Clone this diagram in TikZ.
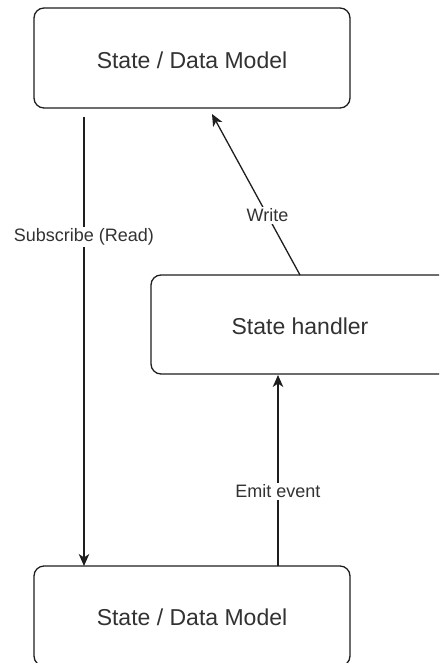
\documentclass[tikz,border=0pt]{standalone}
\usepackage{fontspec}
\setmainfont{Liberation Sans}
\usetikzlibrary{arrows.meta,calc}
\definecolor{ink}{RGB}{30,30,30}
\definecolor{txt}{RGB}{50,50,50}
\begin{document}
\begin{tikzpicture}[x=1pt,y=-1pt,
  box/.style={draw=ink,line width=1.3pt,rounded corners=10pt,fill=white},
  boxtext/.style={text=txt,font=\fontsize{23}{27}\selectfont},
  link/.style={draw=ink,line width=1.3pt,-{Stealth[length=12pt,width=10.5pt,inset=3.5pt]}},
  lbl/.style={fill=white,text=txt,font=\fontsize{18}{21}\selectfont,inner sep=1.5pt}]
  \useasboundingbox (0,0) rectangle (439,663);
  \begin{scope}
    \clip (0,0) rectangle (439,663);
    % boxes
    \draw[box] (34,8) rectangle (350,108);
    \node[boxtext] (model) at (192,60) {State / Data Model};
    \draw[box] (151,275) rectangle (467,374);
    \node[boxtext] (handler) at (300,326) {State handler};
    \draw[box] (34,566) rectangle (350,666);
    \node[boxtext] (view) at (192,617) {State / Data Model};
  \end{scope}
  % connector end points
  \coordinate (subA) at (84,117);
  \coordinate (subB) at (84,566);
  \coordinate (emitA) at (278,566);
  \coordinate (emitB) at (278,375);
  \coordinate (writeA) at (300,275);
  \coordinate (writeB) at (212,114);
  % connectors
  \draw[link] (subA) -- (subB) node[lbl,pos=0.267] (sublbl) {Subscribe (Read)};
  \draw[link] (emitA) -- (emitB) node[lbl,pos=0.39] (emitlbl) {Emit event};
  \draw[link] (writeA) -- (writeB) node[lbl,pos=0.37] (writelbl) {Write};
\end{tikzpicture}
\end{document}
